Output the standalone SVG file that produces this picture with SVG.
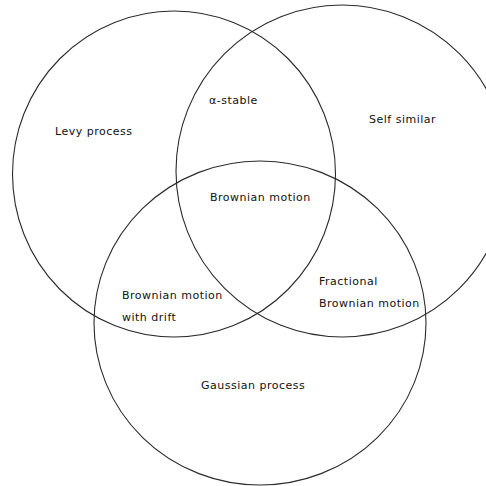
<svg xmlns="http://www.w3.org/2000/svg" width="486" height="486" viewBox="0 0 486 486">
<style>
.c{fill:none;stroke:#2a2a2a;stroke-width:1.1}
.t{font-family:"DejaVu Sans",Verdana,sans-serif;font-size:11px;fill:#111;letter-spacing:0.5px}
</style>
<rect width="486" height="486" fill="#fff"/>
<g id="connectors"></g>
<g id="levy"><ellipse class="c" cx="174" cy="174" rx="161.5" ry="163"/></g>
<g id="selfsimilar"><ellipse class="c" cx="342" cy="171" rx="166" ry="166"/></g>
<g id="gaussian"><ellipse class="c" cx="260" cy="323" rx="166" ry="162"/></g>
<g id="labels">
<text class="t" x="55" y="135">Levy process</text>
<text class="t" x="209" y="104">α-stable</text>
<text class="t" x="369" y="123">Self similar</text>
<text class="t" x="210" y="201">Brownian motion</text>
<text class="t" x="122" y="299">Brownian motion</text>
<text class="t" x="122" y="321">with drift</text>
<text class="t" x="319" y="285">Fractional</text>
<text class="t" x="319" y="307">Brownian motion</text>
<text class="t" x="201" y="389">Gaussian process</text>
</g>
</svg>
